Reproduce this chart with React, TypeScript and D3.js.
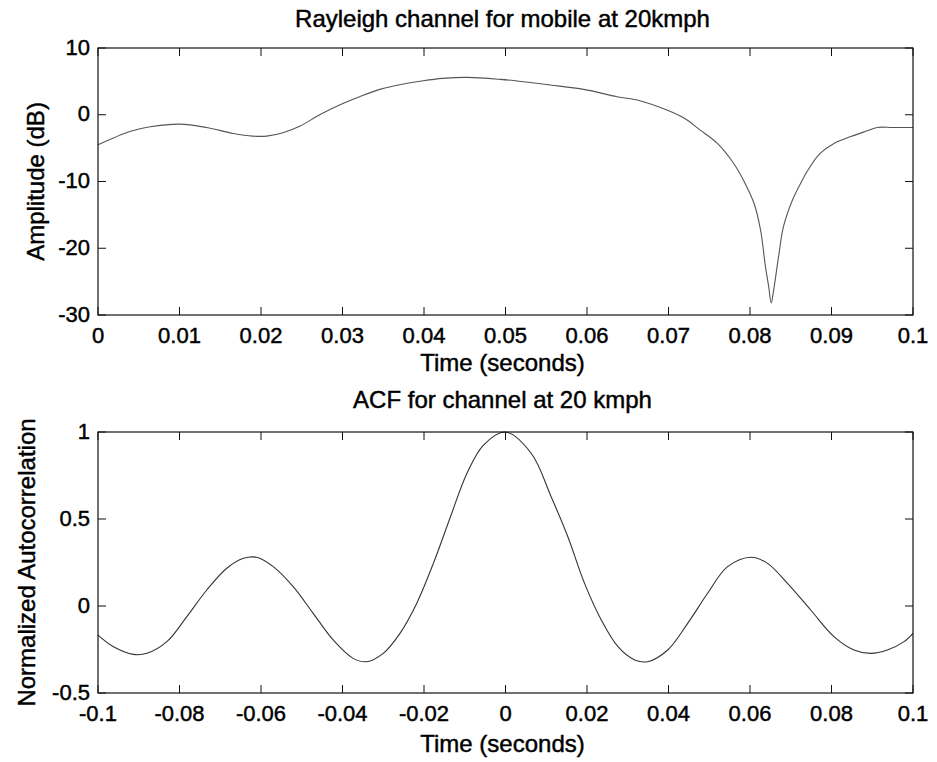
import React from "react";
import * as d3 from "d3";

// ---------- data ----------
const topTitle = "Rayleigh channel for mobile at 20kmph";
const bottomTitle = "ACF for channel at 20 kmph";
const xLabel = "Time (seconds)";
const topYLabel = "Amplitude (dB)";
const bottomYLabel = "Normalized Autocorrelation";

const topXTicks = [0, 0.01, 0.02, 0.03, 0.04, 0.05, 0.06, 0.07, 0.08, 0.09, 0.1];
const topXTickLabels = ["0", "0.01", "0.02", "0.03", "0.04", "0.05", "0.06", "0.07", "0.08", "0.09", "0.1"];
const topYTicks = [10, 0, -10, -20, -30];
const topYTickLabels = ["10", "0", "-10", "-20", "-30"];

const botXTicks = [-0.1, -0.08, -0.06, -0.04, -0.02, 0, 0.02, 0.04, 0.06, 0.08, 0.1];
const botXTickLabels = ["-0.1", "-0.08", "-0.06", "-0.04", "-0.02", "0", "0.02", "0.04", "0.06", "0.08", "0.1"];
const botYTicks = [1, 0.5, 0, -0.5];
const botYTickLabels = ["1", "0.5", "0", "-0.5"];

const timeSec = [0, 0.0039, 0.0064, 0.01, 0.0133, 0.0166, 0.019, 0.0207, 0.0227, 0.0248, 0.0272, 0.0297, 0.0321, 0.0346, 0.037, 0.0399, 0.0423, 0.0453, 0.0494, 0.0514, 0.0555, 0.0596, 0.0637, 0.0665, 0.0698, 0.0719, 0.0739, 0.076, 0.078, 0.0792, 0.0805, 0.0813, 0.0819, 0.0823, 0.0826, 0.0829, 0.0835, 0.0841, 0.0852, 0.0862, 0.087, 0.0886, 0.0903, 0.0923, 0.0944, 0.0956, 0.0975, 0.1];
const amplitudeDb = [-4.5, -2.5, -1.8, -1.4, -1.9, -2.8, -3.2, -3.2, -2.7, -1.7, 0, 1.5, 2.7, 3.8, 4.5, 5.1, 5.45, 5.6, 5.3, 5.06, 4.46, 3.8, 2.7, 2.1, 0.7, -0.5, -2.3, -4.3, -7.3, -9.8, -13.3, -17.3, -22.8, -25.8, -28.2, -26.3, -21.3, -16.8, -12.8, -10.3, -8.5, -5.8, -4.3, -3.3, -2.4, -1.9, -1.9, -1.9];

const acfLag = [-0.1, -0.0962, -0.0913, -0.088, -0.0831, -0.0782, -0.0733, -0.0684, -0.0643, -0.0611, -0.057, -0.0521, -0.0472, -0.0423, -0.0374, -0.0341, -0.03, -0.0259, -0.0218, -0.0177, -0.0137, -0.0095, -0.0054, 0, 0.0063, 0.0112, 0.0153, 0.0194, 0.0235, 0.0276, 0.0317, 0.0349, 0.0398, 0.0447, 0.0496, 0.0545, 0.0603, 0.0643, 0.0692, 0.0749, 0.0806, 0.0855, 0.0896, 0.0937, 0.0978, 0.1];
const acfValue = [-0.167, -0.234, -0.278, -0.272, -0.205, -0.061, 0.092, 0.217, 0.274, 0.28, 0.226, 0.111, -0.042, -0.195, -0.301, -0.32, -0.272, -0.157, 0.015, 0.245, 0.5, 0.76, 0.925, 1.0, 0.878, 0.628, 0.398, 0.13, -0.08, -0.234, -0.31, -0.32, -0.253, -0.1, 0.073, 0.226, 0.28, 0.245, 0.13, -0.023, -0.176, -0.253, -0.272, -0.253, -0.205, -0.157];

// ---------- layout ----------
const W = 937;
const H = 762;
const LEFT = 98;
const RIGHT = 913;
const FONT = "'Liberation Sans', Arial, Helvetica, sans-serif";
const FS_TICK = 22;
const FS_LABEL = 24;
const TICK = 8;

const textStyle = {
  fontFamily: FONT,
  fill: "#000",
  stroke: "#000",
  strokeWidth: 0.45,
} as const;

type PanelProps = {
  top: number;
  bottom: number;
  xDomain: [number, number];
  yDomain: [number, number];
  xTicks: number[];
  xTickLabels: string[];
  yTicks: number[];
  yTickLabels: string[];
  xs: number[];
  ys: number[];
  title: string;
  titleY: number;
  xLabelY: number;
  yLabel: string;
  yLabelX: number;
  lineColor: string;
};

function Panel(p: PanelProps) {
  const x = d3.scaleLinear().domain(p.xDomain).range([LEFT, RIGHT]);
  const y = d3.scaleLinear().domain(p.yDomain).range([p.bottom, p.top]);
  const pts: [number, number][] = p.xs.map((v, i) => [v, p.ys[i]]);
  const line = d3
    .line<[number, number]>()
    .x((d) => x(d[0]))
    .y((d) => y(d[1]))
    .curve(d3.curveCatmullRom.alpha(0.5));
  const cx = (LEFT + RIGHT) / 2;
  const cy = (p.top + p.bottom) / 2;
  return (
    <g>
      <path d={line(pts) || ""} fill="none" stroke={p.lineColor} strokeWidth={1.1} />
      <rect x={LEFT} y={p.top} width={RIGHT - LEFT} height={p.bottom - p.top} fill="none" stroke="#111" strokeWidth={1.2} />
      {p.xTicks.map((t, i) => (
        <g key={"xt" + i}>
          <line x1={x(t)} x2={x(t)} y1={p.bottom} y2={p.bottom - TICK} stroke="#111" />
          <line x1={x(t)} x2={x(t)} y1={p.top} y2={p.top + TICK} stroke="#111" />
          <text x={x(t)} y={p.bottom + 28} textAnchor="middle" fontSize={FS_TICK} style={textStyle}>
            {p.xTickLabels[i]}
          </text>
        </g>
      ))}
      {p.yTicks.map((t, i) => (
        <g key={"yt" + i}>
          <line x1={LEFT} x2={LEFT + TICK} y1={y(t)} y2={y(t)} stroke="#111" />
          <line x1={RIGHT} x2={RIGHT - TICK} y1={y(t)} y2={y(t)} stroke="#111" />
          <text x={90} y={y(t) + 6.5} textAnchor="end" fontSize={FS_TICK} style={textStyle}>
            {p.yTickLabels[i]}
          </text>
        </g>
      ))}
      <text x={cx - 3} y={p.titleY} textAnchor="middle" fontSize={FS_LABEL} style={textStyle}>
        {p.title}
      </text>
      <text x={cx - 3} y={p.xLabelY} textAnchor="middle" fontSize={FS_LABEL} style={textStyle}>
        {xLabel}
      </text>
      <text
        transform={`translate(${p.yLabelX},${cy}) rotate(-90)`}
        textAnchor="middle"
        fontSize={FS_LABEL}
        style={textStyle}
      >
        {p.yLabel}
      </text>
    </g>
  );
}

export default function App() {
  return (
    <svg
      width={W}
      height={H}
      viewBox={`0 0 ${W} ${H}`}
      style={{ position: "absolute", left: 0, top: 0, background: "white" }}
    >
      <rect x={0} y={0} width={W} height={H} fill="white" />
      <Panel
        top={48}
        bottom={315}
        xDomain={[0, 0.1]}
        yDomain={[-30, 10]}
        xTicks={topXTicks}
        xTickLabels={topXTickLabels}
        yTicks={topYTicks}
        yTickLabels={topYTickLabels}
        xs={timeSec}
        ys={amplitudeDb}
        title={topTitle}
        titleY={27}
        xLabelY={371}
        yLabel={topYLabel}
        yLabelX={44}
        lineColor="#555"
      />
      <Panel
        top={432}
        bottom={693}
        xDomain={[-0.1, 0.1]}
        yDomain={[-0.5, 1]}
        xTicks={botXTicks}
        xTickLabels={botXTickLabels}
        yTicks={botYTicks}
        yTickLabels={botYTickLabels}
        xs={acfLag}
        ys={acfValue}
        title={bottomTitle}
        titleY={408}
        xLabelY={752}
        yLabel={bottomYLabel}
        yLabelX={35}
        lineColor="#333"
      />
    </svg>
  );
}
